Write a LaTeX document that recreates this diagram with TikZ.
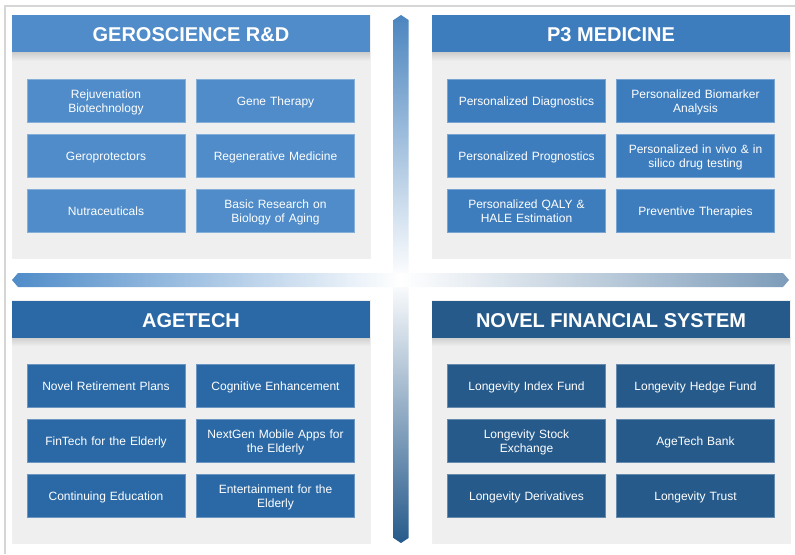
\documentclass[tikz,border=0pt]{standalone}
\usepackage{fontspec}
\setmainfont{Liberation Sans}
\usetikzlibrary{positioning}
\definecolor{gerob}{HTML}{4F8CC9}
\definecolor{ptrib}{HTML}{3E7DBD}
\definecolor{ageb}{HTML}{2A69A6}
\definecolor{finb}{HTML}{265A8B}
\definecolor{panelbg}{HTML}{EFEFEF}
\definecolor{frame}{HTML}{D6D6D6}
\tikzset{
  panel/.style={fill=panelbg,draw=gray!12,line width=0.5pt},
  head/.style={fill=#1,minimum width=268.5pt,minimum height=27.75pt,inner sep=0pt,text=white,
    text height=13.2pt,text depth=0.5pt,font=\bfseries\fontsize{15}{18}\selectfont},
  item/.style={fill=#1,draw=#1!70!white,line width=0.6pt,minimum width=118.5pt,minimum height=32.25pt,
    inner sep=1pt,text width=114pt,align=center,text=white,font=\fontsize{9}{11}\selectfont,
    execute at begin node={\rule{0pt}{9.6pt}},execute at end node={\rule[-2.2pt]{0pt}{2.2pt}}}
}
\begin{document}
\begin{tikzpicture}[x=0.75pt,y=-0.75pt]
\useasboundingbox (0,0) rectangle (795,554);
% frame
\draw[frame,line width=1.5pt] (5,554)--(5,6)--(795,6);
% axes
\shade[top color=gerob!95!black,bottom color=finb,middle color=white]
  (401,15)--(408.5,20)--(408.5,538)--(401,543)--(393.5,538)--(393.5,20)--cycle;
\shade[left color=gerob,right color=finb!60!white,middle color=white]
  (12,280)--(18,273)--(783,273)--(789,280)--(783,287)--(18,287)--cycle;
% panels
\foreach \x/\y in {12/15,432/15,12/300,432/300}{
  \fill[panel] (\x,\y) rectangle ++(358,243);
  \shade[top color=gray!40,bottom color=panelbg] (\x,\y+37) rectangle ++(358,9);
}
\node[head=gerob] (gero) at (191,33.5) {GEROSCIENCE R\&D};
\node[head=ptrib] (ptri) at (611,33.5) {P3 MEDICINE};
\node[head=ageb] (age) at (191,319) {AGETECH};
\node[head=finb] (fin) at (611,319) {NOVEL FINANCIAL SYSTEM};
% geroscience
\foreach \n/\c/\r/\t in {g1/0/0/{Rejuvenation\\Biotechnology},g2/1/0/{Gene Therapy},
  g3/0/1/{Geroprotectors},g4/1/1/{Regenerative Medicine},
  g5/0/2/{Nutraceuticals},g6/1/2/{Basic Research on\\Biology of Aging}}
  {\node[item=gerob] (\n) at ({106+169.5*\c},{100.5+55*\r}) {\t};}
% p3 medicine
\foreach \n/\c/\r/\t in {p1/0/0/{Personalized Diagnostics},p2/1/0/{Personalized Biomarker\\Analysis},
  p3/0/1/{Personalized Prognostics},p4/1/1/{Personalized in vivo \& in\\silico drug testing},
  p5/0/2/{Personalized QALY \&\\HALE Estimation},p6/1/2/{Preventive Therapies}}
  {\node[item=ptrib] (\n) at ({526.5+169*\c},{100.5+55*\r}) {\t};}
% agetech
\foreach \n/\c/\r/\t in {a1/0/0/{Novel Retirement Plans},a2/1/0/{Cognitive Enhancement},
  a3/0/1/{FinTech for the Elderly},a4/1/1/{NextGen Mobile Apps for\\the Elderly},
  a5/0/2/{Continuing Education},a6/1/2/{Entertainment for the\\Elderly}}
  {\node[item=ageb] (\n) at ({106+169.5*\c},{385.5+55*\r}) {\t};}
% financial system
\foreach \n/\c/\r/\t in {f1/0/0/{Longevity Index Fund},f2/1/0/{Longevity Hedge Fund},
  f3/0/1/{Longevity Stock\\Exchange},f4/1/1/{AgeTech Bank},
  f5/0/2/{Longevity Derivatives},f6/1/2/{Longevity Trust}}
  {\node[item=finb] (\n) at ({526.5+169*\c},{385.5+55*\r}) {\t};}
\end{tikzpicture}
\end{document}
